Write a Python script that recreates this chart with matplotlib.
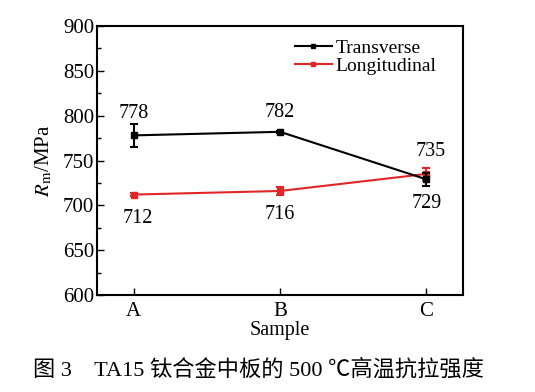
import matplotlib.pyplot as plt
from matplotlib.ticker import MultipleLocator
from matplotlib.lines import Line2D

# 数据
samples = ['A', 'B', 'C']
transverse = [778, 782, 729]
transverse_err = [13, 1, 7]
longitudinal = [712, 716, 735]
longitudinal_err = [2, 4, 7]

plt.rcParams['font.family'] = ['Liberation Serif', 'Noto Sans CJK SC']
plt.rcParams['mathtext.fontset'] = 'stix'

red = '#e32526'

fig = plt.figure(figsize=(5.35, 3.92), dpi=100)
ax = fig.add_axes([97/535, 1-295/392, (463-97)/535, (295-26)/392])

x = list(range(len(samples)))
ax.errorbar(x, transverse, yerr=transverse_err, color='black', marker='s', markersize=4,
            linewidth=1.5, capsize=3, elinewidth=1.5, capthick=1.5, zorder=3)
ax.errorbar(x, longitudinal, yerr=longitudinal_err, color=red, marker='s', markersize=4,
            linewidth=1.5, capsize=3, elinewidth=1.5, capthick=1.5, zorder=2)

# 数值标注
t_off = [(0, 9), (0, 7), (0, -24)]
l_off = [(3, -24), (0, -24), (3, 9)]
for i in range(3):
    ax.annotate(str(transverse[i]), (x[i], transverse[i]), xytext=t_off[i], textcoords='offset points',
                ha='center', va='bottom', fontsize=14.5)
    ax.annotate(str(longitudinal[i]), (x[i], longitudinal[i]), xytext=l_off[i], textcoords='offset points',
                ha='center', va='bottom', fontsize=14.5)

ax.set_xlim(-0.25, 2.25)
ax.set_ylim(600, 900)
ax.set_xticks(x)
ax.set_xticklabels(samples)
ax.yaxis.set_major_locator(MultipleLocator(50))
ax.yaxis.set_minor_locator(MultipleLocator(25))
ax.tick_params(axis='both', direction='in', labelsize=15, length=5, width=1)
ax.tick_params(axis='y', which='minor', direction='in', length=3, width=1)
ax.tick_params(axis='x', pad=5)
ax.tick_params(axis='y', pad=2)
for s in ax.spines.values():
    s.set_linewidth(1.5)

ax.set_xlabel('Sample', fontsize=14.5, labelpad=0)
ax.set_ylabel(r'$R_{\rm m}$/MPa', fontsize=15, labelpad=6)

handles = [Line2D([], [], color='black', marker='s', markersize=3, linewidth=1.5),
           Line2D([], [], color=red, marker='s', markersize=3, linewidth=1.5)]
ax.legend(handles, ['Transverse', 'Longitudinal'], loc='upper right', frameon=False, fontsize=14,
          handlelength=1.9, handletextpad=0.2, labelspacing=0.0, borderaxespad=0.3,
          bbox_to_anchor=(0.965, 1.0))

fig.text(33/535, 1-370/392, '图 3　TA15 钛合金中板的 500 ℃高温抗拉强度', fontsize=16, va='center', ha='left')

fig.savefig('out.png', dpi=100)
